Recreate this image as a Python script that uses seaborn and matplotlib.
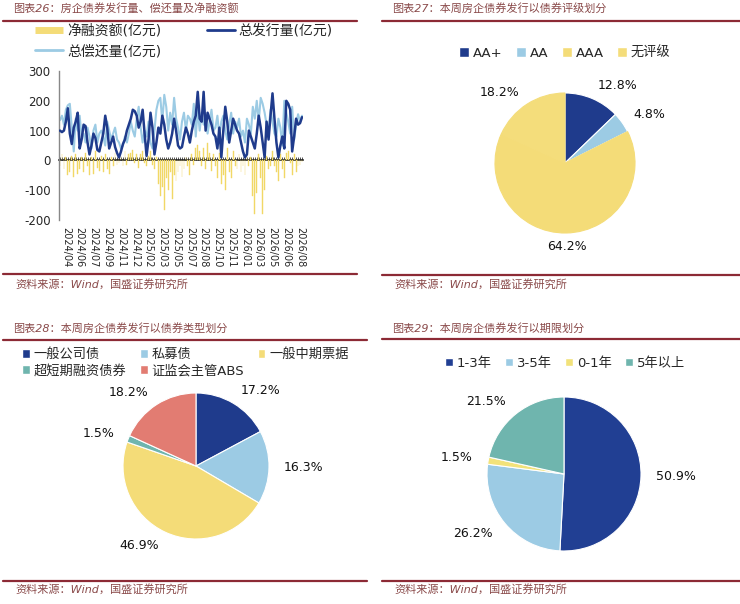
import numpy as np
import pandas as pd
import matplotlib
matplotlib.use('Agg')
import matplotlib.pyplot as plt
import seaborn as sns
from matplotlib.lines import Line2D
from matplotlib.patches import Patch

# ---------------- data ----------------
# chart 26: weekly issuance / repayment / net financing (100m yuan)
tick_labels = ['2024/04', '2024/06', '2024/07', '2024/09', '2024/11', '2024/12',
               '2025/02', '2025/03', '2025/05', '2025/07', '2025/08', '2025/10',
               '2025/11', '2026/01', '2026/03', '2026/05', '2026/06', '2026/08']

issue = [100, 95, 100, 130, 175, 90, 55, 110, 130, 160,
         40, 70, 120, 115, 60, 20, 50, 90, 75, 35,
         30, 60, 90, 150, 110, 40, 60, 80, 45, 25,
         10, 30, 55, 70, 100, 120, 140, 170, 165, 150,
         110, 130, 170, 90, 15, 70, 160, 110, 20, 60,
         110, 90, 150, 120, 70, 40, 60, 90, 140, 100,
         50, 40, 45, 80, 110, 90, 60, 100, 130, 150,
         230, 140, 130, 230, 100, 160, 140, 120, 90, 80,
         40, 110, 10, 100, 180, 130, 60, 100, 140, 120,
         100, 90, 60, 30, 10, 20, 100, 80, 60, 40,
         90, 150, 110, 60, 10, 130, 70, 150, 225, 140,
         60, 10, 50, 80, 40, 200, 190, 170, 30, 80,
         140, 120, 125, 145]

repay = [135, 150, 120, 170, 185, 190, 110, 30, 140, 100,
         150, 80, 90, 60, 110, 80, 40, 100, 120, 60,
         90, 100, 80, 50, 130, 100, 70, 90, 110, 70,
         60, 40, 50, 80, 60, 90, 130, 100, 80, 140,
         180, 110, 60, 100, 80, 130, 60, 40, 100, 170,
         200, 210, 130, 220, 180, 100, 160, 120, 210, 140,
         110, 70, 130, 160, 100, 150, 140, 120, 190, 80,
         170, 100, 160, 120, 150, 90, 130, 170, 100, 110,
         150, 80, 130, 150, 100, 70, 120, 160, 90, 130,
         110, 140, 80, 100, 60, 140, 120, 90, 180, 140,
         200, 130, 210, 190, 160, 120, 100, 170, 130, 90,
         80, 140, 110, 50, 200, 160, 130, 90, 180, 70,
         120, 155, 130, 150]

net = [-20, 20, -30, 10, -50, -40, 15, -55, 20, -45,
       -30, 10, -40, 25, -20, -50, 10, -45, 30, -25,
       -35, 15, -40, 20, -30, -45, 10, -20, 25, -15,
       -10, 15, -20, 30, -15, 20, 25, 35, -10, 20,
       -25, 20, 30, -10, -20, 15, 30, -15, -30, 10,
       -80, -120, -90, -165, -60, -100, -40, -130, -50, -70,
       -40, -20, -55, -30, 10, -20, -50, 20, -15, 40,
       50, 30, -20, 40, -30, 60, 25, -35, 20, -20,
       -60, 25, -80, -50, -100, 40, -40, -60, 30, -20,
       -30, 20, -40, -20, -50, 30, -20, 10, -120, -180,
       -110, 20, -60, -180, -100, 15, -30, -20, 30, -20,
       -40, -70, 20, -30, -60, 25, 30, -10, -50, 20,
       -40, -20, -15, -5]

# chart 27: by rating
rating_labels = ['AA+', 'AA', 'AAA', '无评级']
rating_share = [12.8, 4.8, 64.2, 18.2]

# chart 28: by bond type
type_labels = ['一般公司债', '私募债', '一般中期票据', '超短期融资债券', '证监会主管ABS']
type_share = [17.2, 16.3, 46.9, 1.5, 18.2]

# chart 29: by term
term_labels = ['1-3年', '3-5年', '0-1年', '5年以上']
term_share = [50.9, 26.2, 1.5, 21.5]

# ---------------- style ----------------
sns.set_style('white')
plt.rcParams['font.family'] = ['DejaVu Sans', 'Noto Sans CJK SC']
plt.rcParams['axes.unicode_minus'] = False

W, H = 740, 604
DARK = '#1f3b8c'
LIGHT = '#9ccbe4'
YELLOW = '#f4dc78'
BAR = '#f1d866'
TEAL = '#6fb5ae'
SALMON = '#e27c72'
RULE = '#8c2a35'
TITLE_C = '#8a4a4a'

fig = plt.figure(figsize=(W / 100, H / 100), dpi=100)


def box(x0, y0, x1, y1):
    return [x0 / W, 1 - y1 / H, (x1 - x0) / W, (y1 - y0) / H]


def header(x0, x1, tx, ty, top, bottom, sy, title):
    fig.text(tx / W, 1 - ty / H, title, fontsize=8, color=TITLE_C,
             va='center', style='italic')
    for yy in (top, bottom):
        fig.add_artist(Line2D([x0 / W, x1 / W], [1 - yy / H] * 2,
                              color=RULE, lw=1.6))
    fig.text((tx + 2) / W, 1 - sy / H, '资料来源：Wind，国盛证券研究所', fontsize=8,
             color=TITLE_C, va='center', style='italic')


header(3, 357, 13, 8, 21, 274, 284, '图表26：房企债券发行量、偿还量及净融资额')
header(382, 740, 392, 8, 21, 275, 284, '图表27：本周房企债券发行以债券评级划分')
header(3, 367, 13, 328, 340, 581, 589, '图表28：本周房企债券发行以债券类型划分')
header(382, 740, 392, 328, 339, 581, 589, '图表29：本周房企债券发行以期限划分')

# ---------------- chart 26 ----------------
n = len(issue)
df = pd.DataFrame({'idx': np.arange(n), 'issue': issue, 'repay': repay, 'net': net})

ax = fig.add_axes(box(59, 71, 303, 220))
ax.bar(df['idx'], df['net'], width=0.4, color=BAR, edgecolor=BAR,
       linewidth=0.3, zorder=1)
sns.lineplot(data=df, x='idx', y='issue', ax=ax, color=DARK, lw=1.8, zorder=3)
sns.lineplot(data=df, x='idx', y='repay', ax=ax, color=LIGHT, lw=1.5, zorder=2)
ax.set_xlim(-0.5, n - 0.5)
ax.set_ylim(-200, 300)
ax.set_yticks([-200, -100, 0, 100, 200, 300])
ax.set_xticks([3 + 7 * j for j in range(len(tick_labels))])
ax.set_xticklabels(tick_labels, rotation=270, fontsize=7, va='top', ha='center')
ax.tick_params(axis='x', length=0, pad=5)
ax.tick_params(axis='y', direction='in', length=3, labelsize=8.5, pad=6, color='#888888')
ax.set_xlabel('')
ax.set_ylabel('')
for s in ('top', 'right', 'bottom'):
    ax.spines[s].set_visible(False)
ax.spines['left'].set_color('#888888')
ax.spines['left'].set_linewidth(1.0)

zero = ax.secondary_xaxis(0.4)
zero.set_xticks(np.arange(n))
zero.tick_params(direction='in', length=2.5, width=0.6, labelbottom=False,
                 labeltop=False, color='#333333')
zero.spines['bottom'].set_color('#222222')
zero.spines['bottom'].set_linewidth(1.2)

leg_handles = [Line2D([], [], color=YELLOW, lw=5, solid_capstyle='butt'),
               Line2D([], [], color=LIGHT, lw=2),
               Line2D([], [], color=DARK, lw=2)]
ax.legend(leg_handles, ['净融资额(亿元)', '总偿还量(亿元)', '总发行量(亿元)'],
          ncol=2, loc='upper left', bbox_to_anchor=(35 / W, 1 - 24 / H),
          bbox_transform=fig.transFigure, frameon=False, fontsize=10,
          handlelength=2.0, handletextpad=0.3, columnspacing=3.3,
          labelspacing=0.45, borderpad=0, borderaxespad=0)


# ---------------- pies ----------------
def draw_pie(cx, cy, r, shares, colors):
    pax = fig.add_axes(box(cx - r, cy - r, cx + r, cy + r))
    wedges, texts = pax.pie(shares, colors=colors, startangle=90, counterclock=False,
                            labels=[f'{v:.1f}%' for v in shares], labeldistance=1.2,
                            wedgeprops=dict(edgecolor='white', linewidth=0.8),
                            textprops=dict(fontsize=9, color='#111111'))
    for t in texts:
        if abs(t.get_position()[0]) < 0.3:
            t.set_ha('center')
    pax.set_xlim(-1, 1)
    pax.set_ylim(-1, 1)
    return pax, wedges


def pie_legend(pax, labels, colors, order, anchor, loc, ncol, size):
    handles = [Patch(facecolor=colors[i]) for i in order]
    pax.legend(handles, [labels[i] for i in order], ncol=ncol, loc=loc,
               bbox_to_anchor=(anchor[0] / W, 1 - anchor[1] / H),
               bbox_transform=fig.transFigure, frameon=False, fontsize=9.5,
               handlelength=size, handleheight=size, handletextpad=0.3,
               columnspacing=1.0, labelspacing=0.25, borderpad=0, borderaxespad=0)


c27 = [DARK, LIGHT, '#f4dc78', '#f4dd7b']
p27, w27 = draw_pie(565, 163, 70, rating_share, c27)
for w in w27[2:]:
    w.set_edgecolor(w.get_facecolor())
pie_legend(p27, rating_labels, c27, [0, 1, 2, 3], (565, 53), 'center', 4, 0.75)

c28 = [DARK, LIGHT, YELLOW, TEAL, SALMON]
p28, _ = draw_pie(196, 466, 73, type_share, c28)
pie_legend(p28, type_labels, c28, [0, 3, 1, 4, 2], (22, 348), 'upper left', 3, 0.6)

c29 = ['#213f93', LIGHT, '#f2e27a', TEAL]
p29, _ = draw_pie(564, 474, 77, term_share, c29)
pie_legend(p29, term_labels, c29, [0, 1, 2, 3], (565, 363), 'center', 4, 0.6)

fig.savefig('out.png', dpi=100)
